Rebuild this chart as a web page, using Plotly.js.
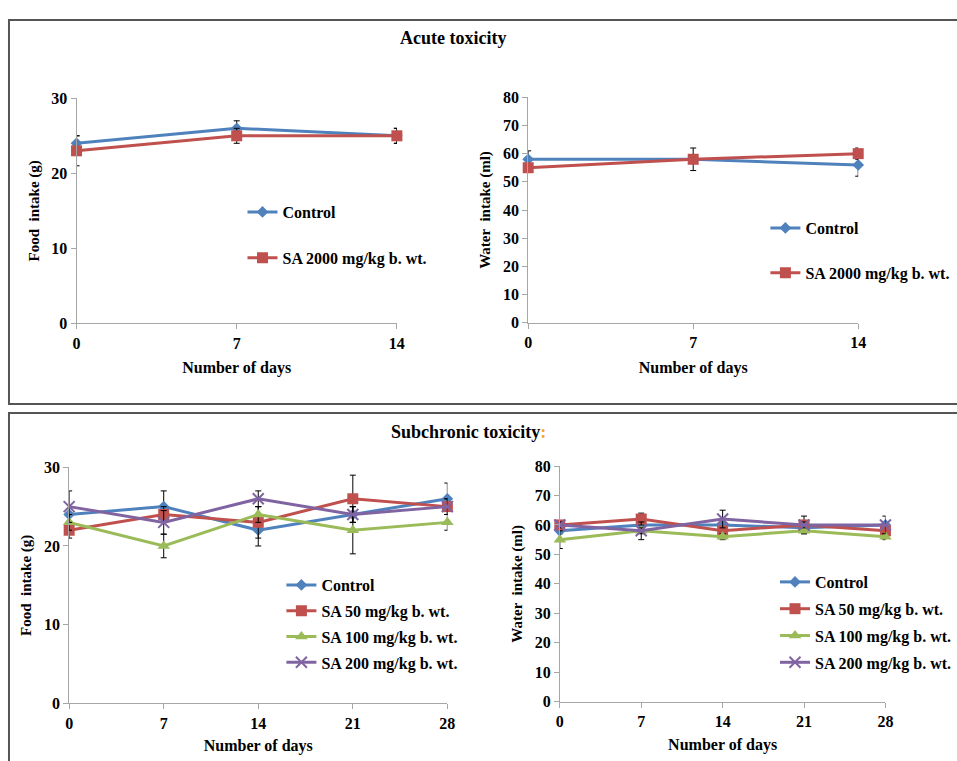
<!DOCTYPE html>
<html>
<head>
<meta charset="utf-8">
<script src="https://cdn.plot.ly/plotly-3.0.1.min.js"></script>
<style>html,body{margin:0;padding:0;background:#fff;}#chart{width:957px;height:761px;}</style>
</head>
<body>
<div id="chart"></div>
<script>
// ---------- data ----------
const daysAcute = [0, 7, 14];
const acuteFoodControl = [24, 26, 25];
const acuteFoodControlErr = [1, 1, 1];
const acuteFoodSA2000 = [23, 25, 25];
const acuteFoodSA2000Err = [2, 1, 1];
const acuteWaterControl = [58, 58, 56];
const acuteWaterControlErr = [3, 1, 4];
const acuteWaterSA2000 = [55, 58, 60];
const acuteWaterSA2000Err = [1, 4, 2];

const daysSub = [0, 7, 14, 21, 28];
const subFoodControl = [24, 25, 22, 24, 26];
const subFoodControlErr = [1, 2, 2, 1, 2];
const subFoodSA50 = [22, 24, 23, 26, 25];
const subFoodSA50Err = [1, 1, 2, 3, 1];
const subFoodSA100 = [23, 20, 24, 22, 23];
const subFoodSA100Err = [1, 1.5, 1, 3, 1];
const subFoodSA200 = [25, 23, 26, 24, 25];
const subFoodSA200Err = [2, 1.5, 1, 1, 1];

const subWaterControl = [58, 60, 60, 59, 60];
const subWaterControlErr = [1, 1, 1, 1, 1];
const subWaterSA50 = [60, 62, 58, 60, 58];
const subWaterSA50Err = [1, 2, 1, 3, 1];
const subWaterSA100 = [55, 58, 56, 58, 56];
const subWaterSA100Err = [3, 3, 1, 1, 1];
const subWaterSA200 = [60, 58, 62, 60, 60];
const subWaterSA200Err = [1, 1, 3, 1, 3];

const namesAcute = ["Control", "SA 2000 mg/kg b. wt."];
const namesSub = ["Control", "SA 50 mg/kg b. wt.", "SA 100 mg/kg b. wt.", "SA 200 mg/kg b. wt."];

// ---------- styles ----------
const W = 957, H = 761;
const px = v => v / W;
const py = v => 1 - v / H;
const FONT = "Liberation Serif, Times New Roman, serif";
const colors = ["#4F81BD", "#C0504D", "#9BBB59", "#8064A2"];
const symbols = ["diamond", "square", "triangle-up", "x-thin"];
const sizes = [9, 11, 11, 11];

function tr(x, y, err, i, name, xa, ya, leg) {
  return {
    type: "scatter", mode: "lines+markers", x: x, y: y, name: name,
    xaxis: xa, yaxis: ya, legend: leg, legendgroup: leg + "_" + i,
    cliponaxis: false,
    line: {color: colors[i], width: 3},
    marker: {symbol: symbols[i], size: sizes[i], color: colors[i],
             line: {color: colors[i], width: i === 3 ? 2 : 0}},
    error_y: {type: "data", array: err, visible: true, color: "#000", thickness: 1, width: 3}
  };
}

const data = [
  tr(daysAcute, acuteFoodControl, acuteFoodControlErr, 0, namesAcute[0], "x", "y", "legend"),
  tr(daysAcute, acuteFoodSA2000, acuteFoodSA2000Err, 1, namesAcute[1], "x", "y", "legend"),
  tr(daysAcute, acuteWaterControl, acuteWaterControlErr, 0, namesAcute[0], "x2", "y2", "legend2"),
  tr(daysAcute, acuteWaterSA2000, acuteWaterSA2000Err, 1, namesAcute[1], "x2", "y2", "legend2"),
  tr(daysSub, subFoodControl, subFoodControlErr, 0, namesSub[0], "x3", "y3", "legend3"),
  tr(daysSub, subFoodSA50, subFoodSA50Err, 1, namesSub[1], "x3", "y3", "legend3"),
  tr(daysSub, subFoodSA100, subFoodSA100Err, 2, namesSub[2], "x3", "y3", "legend3"),
  tr(daysSub, subFoodSA200, subFoodSA200Err, 3, namesSub[3], "x3", "y3", "legend3"),
  tr(daysSub, subWaterControl, subWaterControlErr, 0, namesSub[0], "x4", "y4", "legend4"),
  tr(daysSub, subWaterSA50, subWaterSA50Err, 1, namesSub[1], "x4", "y4", "legend4"),
  tr(daysSub, subWaterSA100, subWaterSA100Err, 2, namesSub[2], "x4", "y4", "legend4"),
  tr(daysSub, subWaterSA200, subWaterSA200Err, 3, namesSub[3], "x4", "y4", "legend4")
];

const tickFont = {family: FONT, size: 16, color: "#000", weight: "bold"};
function xax(x0, x1, ticks, anchor, so) {
  return {domain: [px(x0), px(x1)], range: [0, ticks[ticks.length - 1]], tickvals: ticks,
    anchor: anchor, showline: true, linecolor: "#a6a6a6", linewidth: 1, ticks: "outside",
    ticklen: 5, tickcolor: "#a6a6a6", showgrid: false, zeroline: false, tickfont: tickFont,
    fixedrange: true,
    title: {text: "Number of days", font: {family: FONT, size: 16, color: "#000", weight: "bold"}, standoff: so}};
}
function yax(y0, y1, max, anchor, title) {
  return {domain: [py(y1), py(y0)], range: [0, max], dtick: 10, anchor: anchor,
    showline: true, linecolor: "#a6a6a6", linewidth: 1, ticks: "outside", ticklen: 5,
    tickcolor: "#a6a6a6", showgrid: false, zeroline: false, tickfont: tickFont, fixedrange: true,
    title: {text: title, font: {family: FONT, size: 15, color: "#000", weight: "bold"}, standoff: 8}};
}
function leg(x, y, gap) {
  return {x: px(x), y: py(y), xanchor: "left", yanchor: "top", bgcolor: "rgba(0,0,0,0)",
    font: {family: FONT, size: 16, color: "#000", weight: "bold"}, tracegroupgap: gap,
    itemwidth: 30, traceorder: "grouped"};
}

const layout = {
  width: W, height: H, margin: {l: 0, r: 0, t: 0, b: 0},
  paper_bgcolor: "#fff", plot_bgcolor: "rgba(0,0,0,0)", showlegend: true,
  xaxis: xax(76.7, 397.7, daysAcute, "y", 11),
  yaxis: yax(98.3, 323.3, 30, "x", "Food  intake (g)"),
  xaxis2: xax(529.3, 860, daysAcute, "y2", 11),
  yaxis2: yax(97.3, 322.7, 80, "x2", "Water  intake (ml)"),
  xaxis3: xax(69.3, 448.3, daysSub, "y3", 9),
  yaxis3: yax(467.3, 703.3, 30, "x3", "Food  intake (g)"),
  xaxis4: xax(561, 887.3, daysSub, "y4", 9),
  yaxis4: yax(466, 701.7, 80, "x4", "Water  intake (ml)"),
  legend: leg(243, 195, 22),
  legend2: leg(767, 211, 21),
  legend3: leg(282, 568, 2),
  legend4: leg(777, 565, 3),
  shapes: [
    {type: "rect", xref: "paper", yref: "paper", x0: px(9), x1: px(975), y0: py(404), y1: py(20),
     line: {color: "#555", width: 2}},
    {type: "rect", xref: "paper", yref: "paper", x0: px(9), x1: px(975), y0: py(780), y1: py(413),
     line: {color: "#555", width: 2}}
  ],
  annotations: [
    {text: "Acute toxicity", xref: "paper", yref: "paper", x: px(454), y: py(38), showarrow: false,
     xanchor: "center", yanchor: "middle", font: {family: FONT, size: 18, color: "#000", weight: "bold"}},
    {text: "Subchronic toxicity<span style=\"color:#F5A623\">:</span>", xref: "paper", yref: "paper",
     x: px(469), y: py(432), showarrow: false, xanchor: "center", yanchor: "middle",
     font: {family: FONT, size: 18, color: "#000", weight: "bold"}}
  ]
};

Plotly.newPlot("chart", data, layout, {displayModeBar: false, staticPlot: true});
</script>
</body>
</html>
